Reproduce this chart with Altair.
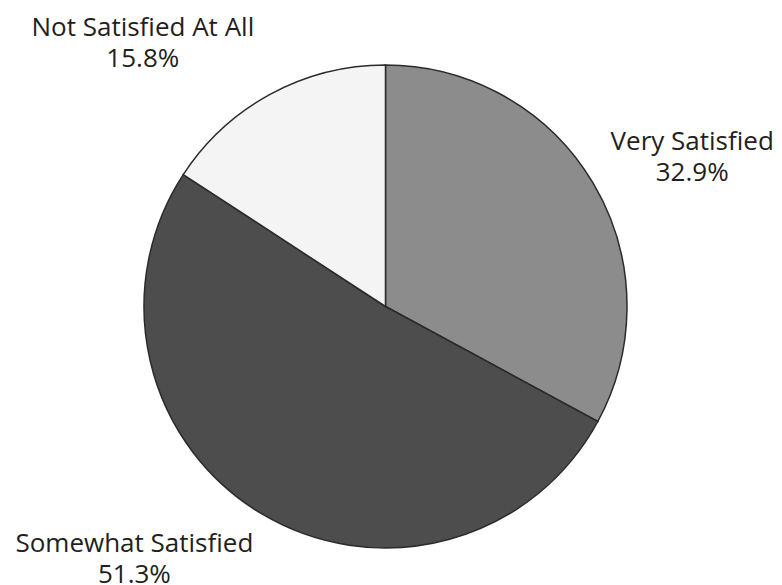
import altair as alt
import pandas as pd

categories = ["Very Satisfied", "Somewhat Satisfied", "Not Satisfied At All"]
percents = [32.9, 51.3, 15.8]
colors = ["#8c8c8c", "#4d4d4d", "#f4f4f4"]

# label offsets (style) relative to the mid-angle anchor
LABEL_OFFSETS = {
    "Very Satisfied": (6, 15),
    "Somewhat Satisfied": (-72, -63),
    "Not Satisfied At All": (-76, 29),
}

df = pd.DataFrame({
    "category": categories,
    "pct": percents,
    "rank": list(range(len(categories))),
})

base = alt.Chart(df).encode(
    theta=alt.Theta("pct:Q", stack=True),
    order=alt.Order("rank:Q"),
)

arcs = base.mark_arc(radius=241.5, stroke="#2b2b2b", strokeWidth=1.5).encode(
    color=alt.Color(
        "category:N",
        scale=alt.Scale(domain=categories, range=colors),
        legend=None,
    )
)

layers = [arcs]
for cat in categories:
    dx, dy = LABEL_OFFSETS[cat]
    layers.append(
        base.mark_text(
            radius=350,
            dx=dx,
            dy=dy,
            align="center",
            baseline="middle",
            font="Open Sans",
            fontSize=26,
            color="#231f20",
            lineBreak="\n",
            lineHeight=31,
        )
        .transform_calculate(
            label="datum.category + '\\n' + format(datum.pct, '.1f') + '%'"
        )
        .encode(
            text="label:N",
            opacity=alt.condition(
                alt.datum.category == cat, alt.value(1), alt.value(0)
            ),
        )
    )

chart = alt.layer(*layers).properties(
    width=733,
    height=537,
    autosize=alt.AutoSizeParams(type="none"),
    padding={"left": 11, "top": 30, "right": 22, "bottom": 17},
).configure_view(stroke=None)

chart.save("out.html", embed_options={"renderer": "svg", "actions": False})
